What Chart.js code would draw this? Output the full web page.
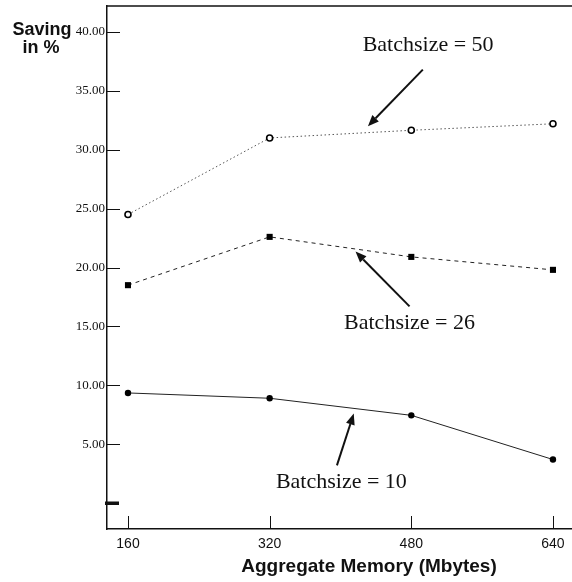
<!DOCTYPE html>
<html>
<head>
<meta charset="utf-8">
<script src="https://cdn.jsdelivr.net/npm/chart.js@4/dist/chart.umd.min.js"></script>
<style>
  html, body { margin: 0; padding: 0; background: #fff; }
</style>
</head>
<body>
<canvas id="savingChart" width="572" height="582"></canvas>
<script>
// values
const memory = [160, 320, 480, 640];
const batch50 = [24.5, 31.0, 31.65, 32.2];
const batch26 = [18.5, 22.6, 20.9, 19.8];
const batch10 = [9.35, 8.9, 7.45, 3.7];
const yTickValues = [0, 5, 10, 15, 20, 25, 30, 35, 40];
const xTickValues = [160, 320, 480, 640];
const seriesNames = ['Batchsize = 50', 'Batchsize = 26', 'Batchsize = 10'];

// label + arrow placement, in data units
const notes = [
    { text: seriesNames[0], tx: 499, ty: 38.9, from: [493, 36.8], to: [431, 32.0] },
    { text: seriesNames[1], tx: 478, ty: 15.25, from: [478, 16.7], to: [417, 21.35] },
    { text: seriesNames[2], tx: 401, ty: 1.75, from: [396, 3.2], to: [415, 7.6] }
];

const ink = '#111';

function drawArrow(ctx, x1, y1, x2, y2) {
    const ang = Math.atan2(y2 - y1, x2 - x1);
    const len = 11, half = 4.5;
    const bx = x2 - len * Math.cos(ang), by = y2 - len * Math.sin(ang);
    ctx.beginPath();
    ctx.moveTo(x1, y1);
    ctx.lineTo(bx, by);
    ctx.lineWidth = 2;
    ctx.stroke();
    ctx.beginPath();
    ctx.moveTo(x2, y2);
    ctx.lineTo(bx + half * Math.sin(ang), by - half * Math.cos(ang));
    ctx.lineTo(bx - half * Math.sin(ang), by + half * Math.cos(ang));
    ctx.closePath();
    ctx.fill();
}

const decorPlugin = {
    id: 'decor',
    afterDraw(chart) {
        const ctx = chart.ctx;
        const xs = chart.scales.x, ys = chart.scales.y;
        const area = chart.chartArea;
        ctx.save();
        ctx.strokeStyle = ink;
        ctx.fillStyle = ink;

        // top frame line
        ctx.lineWidth = 1.5;
        ctx.beginPath();
        ctx.moveTo(area.left, area.top);
        ctx.lineTo(area.right, area.top);
        ctx.stroke();

        // inward tick marks
        ctx.lineWidth = 1;
        yTickValues.forEach(v => {
            const y = Math.round(ys.getPixelForValue(v)) + 0.5;
            if (v === 0) {
                ctx.fillRect(area.left - 2, y - 2, 14, 3.5);
                return;
            }
            ctx.beginPath();
            ctx.moveTo(area.left, y);
            ctx.lineTo(area.left + 13, y);
            ctx.stroke();
        });
        xTickValues.forEach(v => {
            const x = Math.round(xs.getPixelForValue(v)) + 0.5;
            ctx.beginPath();
            ctx.moveTo(x, area.bottom);
            ctx.lineTo(x, area.bottom - 13);
            ctx.stroke();
        });

        // series labels and arrows
        ctx.font = '22px "Liberation Serif", "DejaVu Serif", serif';
        ctx.textAlign = 'center';
        ctx.textBaseline = 'middle';
        notes.forEach(n => {
            ctx.fillText(n.text, xs.getPixelForValue(n.tx), ys.getPixelForValue(n.ty));
            drawArrow(ctx,
                xs.getPixelForValue(n.from[0]), ys.getPixelForValue(n.from[1]),
                xs.getPixelForValue(n.to[0]), ys.getPixelForValue(n.to[1]));
        });

        // axis titles
        ctx.font = 'bold 18px "Liberation Sans", Arial, sans-serif';
        ctx.fillText('Saving', 42, 30);
        ctx.fillText('in %', 41, 48);
        ctx.font = 'bold 19px "Liberation Sans", Arial, sans-serif';
        ctx.fillText('Aggregate Memory (Mbytes)', 369, 567);
        ctx.restore();
    }
};

const toXY = vals => vals.map((v, i) => ({ x: memory[i], y: v }));

new Chart(document.getElementById('savingChart'), {
    type: 'line',
    data: {
        datasets: [
            {
                label: seriesNames[0],
                data: toXY(batch50),
                borderColor: '#555',
                borderWidth: 1,
                borderDash: [1.5, 2.5],
                pointStyle: 'circle',
                pointRadius: 3,
                pointBackgroundColor: '#fff',
                pointBorderColor: '#000',
                pointBorderWidth: 1.6
            },
            {
                label: seriesNames[1],
                data: toXY(batch26),
                borderColor: '#222',
                borderWidth: 1,
                borderDash: [4, 4],
                pointStyle: 'rect',
                pointRadius: 4.3,
                pointBackgroundColor: '#000',
                pointBorderColor: '#000',
                pointBorderWidth: 0
            },
            {
                label: seriesNames[2],
                data: toXY(batch10),
                borderColor: '#222',
                borderWidth: 1,
                pointStyle: 'circle',
                pointRadius: 3.2,
                pointBackgroundColor: '#000',
                pointBorderColor: '#000',
                pointBorderWidth: 0
            }
        ]
    },
    options: {
        responsive: false,
        animation: false,
        layout: { autoPadding: false, padding: { top: 6, right: 0, left: 0, bottom: 0 } },
        plugins: {
            legend: { display: false },
            tooltip: { enabled: false }
        },
        elements: { line: { tension: 0 } },
        scales: {
            x: {
                type: 'linear',
                min: 136.3,
                max: 661.5,
                afterBuildTicks: scale => { scale.ticks = xTickValues.map(v => ({ value: v })); },
                afterFit: scale => {
                    scale.height = 53;
                    scale.paddingLeft = 0;
                    scale.paddingRight = 0;
                },
                grid: { display: false, drawTicks: false },
                border: { display: true, color: ink, width: 1.5 },
                ticks: {
                    padding: 7,
                    color: ink,
                    font: { family: '"Liberation Sans", Arial, sans-serif', size: 14 }
                }
            },
            y: {
                min: -2.2,
                max: 42.2,
                afterBuildTicks: scale => { scale.ticks = yTickValues.map(v => ({ value: v })); },
                afterFit: scale => {
                    scale.width = 107;
                    scale.paddingTop = 0;
                    scale.paddingBottom = 0;
                },
                grid: { display: false, drawTicks: false },
                border: { display: true, color: ink, width: 1.5 },
                ticks: {
                    padding: 2,
                    color: ink,
                    font: { family: '"Liberation Serif", "DejaVu Serif", serif', size: 13 },
                    callback: v => v === 0 ? '' : Number(v).toFixed(2)
                }
            }
        }
    },
    plugins: [decorPlugin]
});
</script>
</body>
</html>
